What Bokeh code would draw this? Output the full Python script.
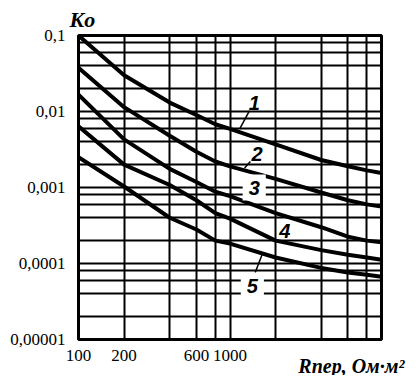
from bokeh.plotting import figure
from bokeh.models import FixedTicker, Label, Range1d, Title
from bokeh.embed import file_html
from bokeh.resources import INLINE

# ---- data ----
r_values = [100, 200, 400, 600, 800, 1000, 2000, 4000, 6000, 8000, 10000]
k_curve_1 = [0.1, 0.030, 0.0131, 0.0090, 0.0068, 0.0059, 0.0037, 0.0023, 0.0019, 0.00168, 0.00155]
k_curve_2 = [0.0377, 0.0114, 0.0048, 0.00295, 0.0022, 0.0019, 0.0013, 0.00086, 0.00068, 0.0006, 0.00056]
k_curve_3 = [0.0166, 0.0043, 0.00176, 0.00118, 0.00088, 0.00077, 0.00046, 0.0003, 0.000225, 0.0002, 0.00019]
k_curve_4 = [0.0064, 0.002, 0.00108, 0.00068, 0.00046, 0.00039, 0.0002, 0.00015, 0.00013, 0.00012, 0.000112]
k_curve_5 = [0.0025, 0.00103, 0.0004, 0.00028, 0.0002, 0.000183, 0.00012, 0.0000875, 0.000076, 0.000071, 0.000067]

curve_names = ["1", "2", "3", "4", "5"]
curve_label_x = [1445, 1511, 1445, 2297, 1404]
curve_label_y = [0.013, 0.0028, 0.001, 0.00027, 0.000051]
curve_label_gap = [False, False, True, False, True]

leader_1_x = [1343, 1159]
leader_1_y = [0.0102, 0.0059]
leader_2_x = [1363, 1248]
leader_2_y = [0.0022, 0.0018]
leader_5_x = [1627, 1467]
leader_5_y = [0.00013, 0.000076]

x_tick_values = [100, 200, 600, 1000]
x_tick_labels = ["100", "200", "600", "1000"]
y_tick_values = [0.00001, 0.0001, 0.001, 0.01, 0.1]
y_tick_labels = ["0,00001", "0,0001", "0,001", "0,01", "0,1"]

x_grid_values = [200, 400, 600, 800, 1000, 2000, 4000, 6000, 8000]
y_grid_values = [2e-5, 4e-5, 6e-5, 8e-5, 1e-4,
                 2e-4, 4e-4, 6e-4, 8e-4, 1e-3,
                 2e-3, 4e-3, 6e-3, 8e-3, 1e-2,
                 2e-2, 4e-2, 6e-2, 8e-2]

y_title = "Ko"
x_title = "Rпер, Ом·м²"

# ---- figure ----
p = figure(width=408, height=375,
           x_axis_type="log", y_axis_type="log",
           x_range=Range1d(100, 10000), y_range=Range1d(1e-5, 0.1),
           output_backend="svg", toolbar_location=None,
           min_border_left=78, min_border_right=27,
           min_border_top=34, min_border_bottom=36)

p.outline_line_color = "black"
p.outline_line_width = 3
p.outline_line_alpha = 1.0
p.background_fill_color = "white"
p.border_fill_color = "white"

p.xgrid.ticker = FixedTicker(ticks=x_grid_values)
p.ygrid.ticker = FixedTicker(ticks=y_grid_values)
for g in (p.xgrid, p.ygrid):
    g.grid_line_color = "black"
    g.grid_line_width = 2
    g.grid_line_alpha = 1.0

p.xaxis.ticker = FixedTicker(ticks=x_tick_values)
p.yaxis.ticker = FixedTicker(ticks=y_tick_values)
p.xaxis.major_label_overrides = dict(zip(x_tick_values, x_tick_labels))
p.yaxis.major_label_overrides = dict(zip(y_tick_values, y_tick_labels))
for ax in (p.xaxis, p.yaxis):
    ax.axis_line_color = None
    ax.major_tick_line_color = None
    ax.minor_tick_line_color = None
    ax.major_tick_out = 0
    ax.major_tick_in = 0
    ax.major_label_text_font = "Liberation Serif"
    ax.major_label_text_font_size = "17px"
    ax.major_label_text_color = "black"
p.yaxis.major_label_standoff = 13
p.xaxis.major_label_standoff = 10

p.add_layout(Title(text=y_title, align="left", offset=-9, standoff=8,
                   vertical_align="bottom",
                   text_font="Liberation Sans Narrow", text_font_style="bold italic",
                   text_font_size="22px", text_color="black"), "above")

p.add_layout(Title(text=x_title, align="right", offset=-23, standoff=-21,
                   text_font="Liberation Sans Narrow", text_font_style="bold italic",
                   text_font_size="20px", text_color="black"), "below")

for k in (k_curve_1, k_curve_2, k_curve_3, k_curve_4, k_curve_5):
    p.line(r_values, k, line_width=4, color="black")

for lx, ly in ((leader_1_x, leader_1_y), (leader_2_x, leader_2_y), (leader_5_x, leader_5_y)):
    p.line(lx, ly, line_width=1.5, color="black")

for name, lx, ly, gap in zip(curve_names, curve_label_x, curve_label_y, curve_label_gap):
    kw = {}
    if gap:
        kw = dict(background_fill_color="white", padding=6)
    p.add_layout(Label(x=lx, y=ly, text=name, text_align="center", text_baseline="middle",
                       text_font="Liberation Sans", text_font_style="bold italic",
                       text_font_size="20px", text_color="black", **kw))

open("out.html", "w").write(file_html(p, INLINE))
